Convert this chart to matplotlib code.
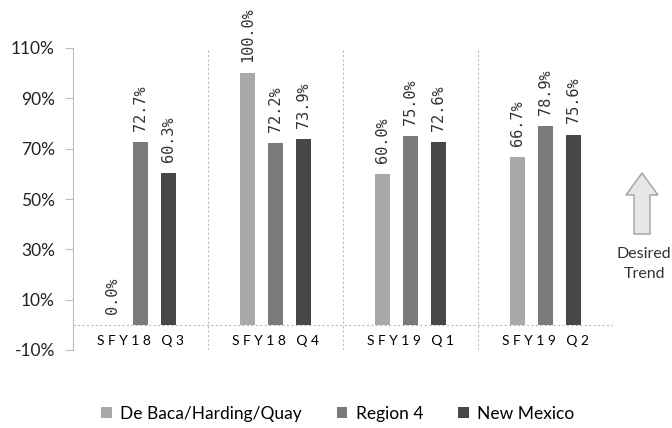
import matplotlib
matplotlib.use("Agg")
import matplotlib.pyplot as plt
from matplotlib.patches import FancyArrow
import numpy as np

categories = ["SFY18 Q3", "SFY18 Q4", "SFY19 Q1", "SFY19 Q2"]
series_names = ["De Baca/Harding/Quay", "Region 4", "New Mexico"]
debaca = [0.0, 100.0, 60.0, 66.7]
region4 = [72.7, 72.2, 75.0, 78.9]
newmexico = [60.3, 73.9, 72.6, 75.6]
yticks = [-10, 10, 30, 50, 70, 90, 110]

colors = ["#a9a9a9", "#7a7a7a", "#474747"]
series = [debaca, region4, newmexico]

plt.rcParams['font.family'] = ['Lato', 'DejaVu Sans']
fig = plt.figure(figsize=(6.72, 4.28), dpi=100)
ax = fig.add_axes([73/672, 1-350/428, (613-73)/672, (350-48)/428])

x = np.arange(len(categories))
offs = [-0.207, 0.0, 0.207]
w = 0.11
for vals, c, o, name in zip(series, colors, offs, series_names):
    ax.bar(x + o, vals, width=w, color=c, label=name, zorder=3)
    for xi, v in zip(x + o, vals):
        ax.annotate(f"{v:.1f}%", (xi, v), xytext=(0, 8), textcoords="offset points",
                    rotation=90, ha="center", va="bottom", fontsize=11,
                    family="DejaVu Sans Mono", color="#333333", annotation_clip=False)

ax.set_xlim(-0.5, len(categories) - 0.5)
ax.set_ylim(-10, 110)
ax.set_yticks(yticks)
ax.set_yticklabels([f"{t}%" for t in yticks], fontsize=12.5, color="#222222")
ax.axhline(0, color="#bbbbbb", lw=0.8, ls=(0, (2, 2)), zorder=1)
for b in np.arange(0.5, len(categories), 1.0):
    ax.axvline(b, color="#bbbbbb", lw=0.8, ls=(0, (2, 2)), zorder=1)
ax.set_xticks(x)
ax.set_xticklabels([" ".join(c) for c in categories], fontsize=10.5, color="#222222")
ax.spines["bottom"].set_position(("data", 0))
ax.spines["bottom"].set_visible(False)
ax.tick_params(axis="x", length=0, pad=7)
ax.tick_params(axis="y", length=6, color="#bbbbbb", pad=7)
for s in ["top", "right"]:
    ax.spines[s].set_visible(False)
ax.spines["left"].set_color("#bbbbbb")

# desired trend arrow
arrow = FancyArrow(642/672, 1-234/428, 0, (234-173)/428, width=16/672,
                   head_width=32/672, head_length=22/428, length_includes_head=True,
                   transform=fig.transFigure, facecolor="#e6e6e6", edgecolor="#a0a0a0", lw=1)
fig.patches.append(arrow)
fig.text(617/672, 1-254/428, "Desired", ha="left", va="center", fontsize=11.5, color="#333333")
fig.text(644/672, 1-274/428, "Trend", ha="center", va="center", fontsize=11.5, color="#333333")

fig.legend(loc="center", bbox_to_anchor=(338/672, 1-414/428), ncol=3, frameon=False,
           fontsize=12.5, handlelength=0.6, handleheight=0.6, handletextpad=0.5,
           columnspacing=2.0)

fig.savefig("out.png", dpi=100)
